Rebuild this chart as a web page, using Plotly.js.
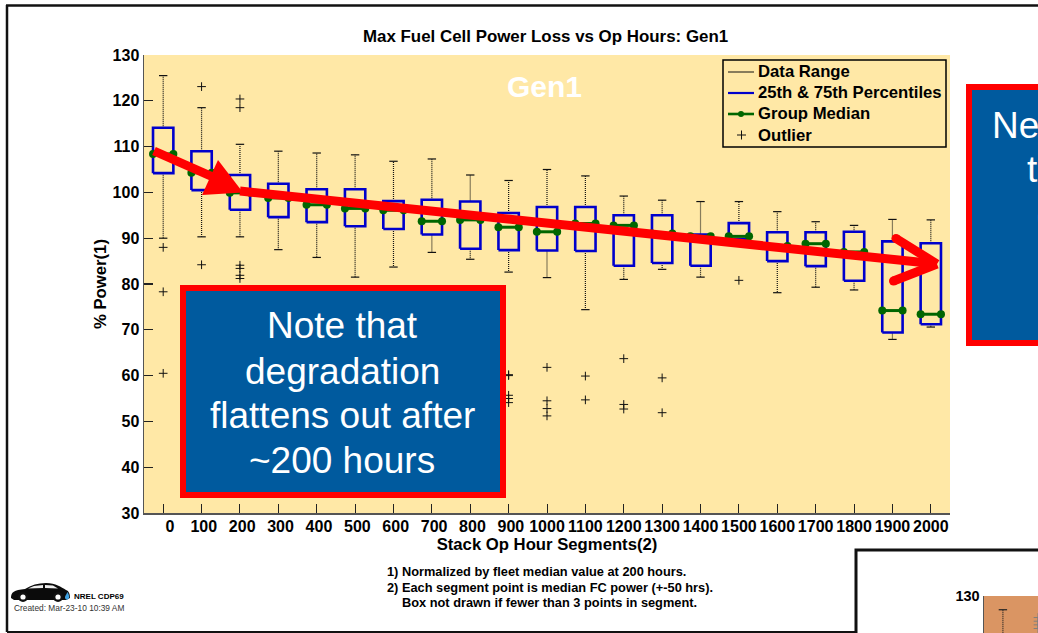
<!DOCTYPE html>
<html><head><meta charset="utf-8">
<script src="https://cdn.plot.ly/plotly-3.0.1.min.js"></script>
<style>html,body{margin:0;padding:0;background:#fff;overflow:hidden}#c{width:1038px;height:633px}</style>
</head><body><div id="c"></div>
<script>
const hours=[0,100,200,300,400,500,600,700,800,900,1000,1100,1200,1300,1400,1500,1600,1700,1800,1900,2000];
const tickLabels=["0","100","200","300","400","500","600","700","800","900","1000","1100","1200","1300","1400","1500","1600","1700","1800","1900","2000"];
const high=[125.5,118.5,110.5,109,108.6,108.2,106.8,107.3,103.8,102.6,105,103.6,99.2,98.3,98,98,95.8,93.6,92.8,94.1,94];
const q3=[114.1,109,103.8,101.9,100.7,100.7,98.1,98.4,98,95.5,96.8,96.8,95,95,90.8,93.3,91.3,91.3,91.4,89.3,88.9];
const median=[108.4,104.3,99.9,98.8,97.3,96.5,96.1,93.7,94,92.4,91.4,93.2,92.8,91,90.4,90.4,88.3,88.8,87,74.2,73.4];
const q1=[104.2,100.5,96.2,94.6,93.5,92.6,92,90.8,87.7,87.4,87.3,87.2,84,84.6,84,89.8,85,83.9,80.7,69.4,71.2];
const low=[90,90.3,90.3,87.5,85.8,81.5,83.7,86.9,85.4,82.6,81.4,74.4,81,83.2,81.5,88.5,78.1,79.3,78.7,67.9,70.6];
const outlierX=[0,0,0,100,100,200,200,200,200,200,200,900,900,900,900,900,1000,1000,1000,1000,1100,1100,1200,1200,1200,1300,1300,1500];
const outlierY=[88,78.3,60.5,123.1,84.2,120.4,118.5,84.1,83.4,81.9,81.2,60.2,60,55.7,55,54.1,61.8,54.5,52.8,51.2,59.9,54.7,63.7,53.7,52.7,59.5,51.9,80.8];
const insetX=[0];
const insetHigh=[127];
const insetLow=[120];
const insetOutX=[104,104,104,104];
const insetOutY=[125.3,124.5,123.7,122.9];
const noteLines=["Note that","degradation","flattens out after","~200 hours"];
const sideLines=["Ne","t","("];
const footnotes=["1) Normalized by fleet median value at 200 hours.","2) Each segment point is median FC power (+-50 hrs).","Box not drawn if fewer than 3 points in segment."];
const legendLabels=["Data Range","25th & 75th Percentiles","Group Median","Outlier"];

const W=1038,H=633,FONT='"Liberation Sans",Arial,sans-serif';
const px=x=>x/W, py=y=>1-y/H, HALF=26.5;
const BLUE='#0000CC',GREEN='#006600',RED='#FF0000',PANEL='#005A9E',TAN='#DA9563',BG='#FFE8A6';

const wx=[],wy=[],capX=[],capY=[],bx=[],by=[],mx=[],my=[];
hours.forEach((h,i)=>{
  wx.push(h,h,null,h,h,null); wy.push(q3[i],high[i],null,q1[i],low[i],null);
  capX.push(h,h); capY.push(high[i],low[i]);
  bx.push(h-HALF,h+HALF,h+HALF,h-HALF,h-HALF,null); by.push(q1[i],q1[i],q3[i],q3[i],q1[i],null);
  mx.push(h-HALF,h+HALF,null); my.push(median[i],median[i],null);
});
const traces=[
 {x:wx,y:wy,mode:'lines',line:{color:'#111',width:1.2,dash:'1px,1px'},showlegend:false,hoverinfo:'skip'},
 {x:capX,y:capY,mode:'markers',marker:{symbol:'line-ew',size:6,line:{color:'#111',width:1.2}},showlegend:false,hoverinfo:'skip'},
 {x:bx,y:by,mode:'lines',name:'25th & 75th Percentiles',line:{color:BLUE,width:2.6},showlegend:false},
 {x:mx,y:my,mode:'lines+markers',name:'Group Median',line:{color:GREEN,width:3},marker:{color:GREEN,size:8},showlegend:false},
 {x:outlierX,y:outlierY,mode:'markers',name:'Outlier',marker:{symbol:'cross-thin-open',size:6.2,color:'#111',line:{color:'#111',width:1}},showlegend:false},
 {x:[0,0],y:insetHigh.concat(insetLow),xaxis:'x2',yaxis:'y2',mode:'lines',line:{color:'#222',width:1.2,dash:'1px,1px'},showlegend:false},
 {x:insetX,y:insetHigh,xaxis:'x2',yaxis:'y2',mode:'markers',marker:{symbol:'line-ew',size:6,line:{color:'#222',width:1.2}},showlegend:false},
 {x:insetOutX,y:insetOutY,xaxis:'x2',yaxis:'y2',mode:'markers',marker:{symbol:'cross-thin-open',size:6.2,line:{color:'#222',width:1}},showlegend:false}
];
const rect=(x0,y0,x1,y1,fill,line,w,layer)=>({type:'rect',xref:'paper',yref:'paper',x0:px(x0),x1:px(x1),y0:py(y0),y1:py(y1),fillcolor:fill,line:{color:line,width:w},layer:layer||'above'});
const seg=(x0,y0,x1,y1,c,w,layer)=>({type:'line',xref:'paper',yref:'paper',x0:px(x0),x1:px(x1),y0:py(y0),y1:py(y1),line:{color:c,width:w},layer:layer||'above'});
const dot=(x,y,r,c)=>({type:'circle',xref:'paper',yref:'paper',x0:px(x-r),x1:px(x+r),y0:py(y-r),y1:py(y+r),fillcolor:c,line:{width:0}});
const poly=(pts,c)=>({type:'path',xref:'paper',yref:'paper',path:pts.map((p,i)=>(i?'L':'M')+px(p[0])+','+py(p[1])).join(' ')+' Z',fillcolor:c,line:{width:0}});
const bez=(cmd,c)=>({type:'path',xref:'paper',yref:'paper',path:cmd.replace(/(-?[\d.]+),(-?[\d.]+)/g,(m,a,b)=>px(+a)+','+py(+b)),fillcolor:c,line:{width:0}});

const legendY=[72,93,114,135];
const shapes=[
 seg(6,5.5,1038,5.5,'#111',2.5,'below'),
 seg(7,5,7,632,'#111',2.5,'below'),
 seg(7,632,856,632,'#111',2,'below'),
 rect(856,550,1045,640,'#fff','#111',3,'below'),
 rect(984,596,1045,640,TAN,'rgba(0,0,0,0)',0,'below'),
 // red trend arrows
 seg(154,151,222,181,RED,9),
 poly([[218,160],[202,195],[243,192.5]],RED),
 seg(240,191,937,264,RED,9),
 seg(896,238.5,937,264,RED,9),
 seg(893.5,281,937,264,RED,9),
 dot(896,238.5,4.5,RED),dot(893.5,281,4.5,RED),
 // legend frame and keys
 rect(723,60,946,147,BG,'#000',1.5),
 seg(728,legendY[0],754,legendY[0],'#111',1),
 seg(728,legendY[1],754,legendY[1],BLUE,2.2),
 seg(728,legendY[2],754,legendY[2],GREEN,2.6),
 dot(741,legendY[2],3,GREEN),
 seg(737,legendY[3],746,legendY[3],'#111',1),
 seg(741.5,legendY[3]-4.5,741.5,legendY[3]+4.5,'#111',1),
 // note boxes
 rect(183,288,503,495,PANEL,RED,6),
 rect(969,87,1050,343,PANEL,RED,6),
 // car badge
 bez('M11,598 C11,592 14,590 25,589 C31,585 38,583 46,583 C56,583 61,587 66,590 C69,591 70,594 70,598 L66,600 L52,600 L30,600 L14,600 Z','#0b0b0b'),
 dot(23,597,5,'#111'),dot(58,597,5,'#111'),dot(23,597,2.6,'#fff'),dot(58,597,2.6,'#fff'),
 poly([[28,588.5],[34,586],[43,585],[43,588]],'#eee'),
 poly([[45,585],[53,585.6],[58,588.5],[45,588]],'#eee'),
 bez('M67.5,592 C69,595 70,597 68.5,599 C67,600.5 64.5,599 65,597 C65.5,595.5 66.5,594 67.5,592 Z','#3fa0df')
];
const ann=(t,x,y,size,opt)=>Object.assign({text:t,xref:'paper',yref:'paper',x:px(x),y:py(y),showarrow:false,xanchor:'center',yanchor:'middle',borderpad:0,font:{family:FONT,size:size,color:'#000'}},opt||{});
const white=(c)=>({font:{family:FONT,size:37,color:'#fff'},xanchor:c||'center'});
const noteY=[325,371,415,460], sideY=[125,170,215], sideX=[991,1026,1035];
const annotations=[
 ann('<b>Max Fuel Cell Power Loss vs Op Hours: Gen1</b>',545.5,36,16.9),
 ann('<b>Gen1</b>',544,87,30,{font:{family:FONT,size:30,color:'#fff'}}),
 ann('<b>NREL CDP69</b>',73,596.5,8,{xanchor:'left'}),
 ann('Created: Mar-23-10 10:39 AM',12.5,608,8.35,{xanchor:'left',font:{family:FONT,size:8.35,color:'#333'}}),
 ann('<b>'+footnotes[0]+'</b>',385.5,571.5,12.8,{xanchor:'left'}),
 ann('<b>'+footnotes[1]+'</b>',385.5,587.5,12.8,{xanchor:'left'}),
 ann('<b>'+footnotes[2]+'</b>',401,602.5,12.8,{xanchor:'left'})
];
noteLines.forEach((t,i)=>annotations.push(ann(t,342,noteY[i],37,white())));
sideLines.forEach((t,i)=>annotations.push(ann(t,sideX[i],sideY[i],37,white('left'))));
legendLabels.forEach((t,i)=>annotations.push(ann('<b>'+t+'</b>',756.5,legendY[i],16.7,{xanchor:'left'})));

const axisFont={family:FONT,size:16,color:'#000',weight:700};
const titleFont={family:FONT,size:16.7,color:'#000',weight:700};
const layout={
 width:W,height:H,margin:{l:0,r:0,t:0,b:0},autosize:false,
 paper_bgcolor:'#fff',plot_bgcolor:BG,font:{family:FONT},showlegend:false,
 xaxis:{domain:[px(144),px(950)],range:[-50,2050],tickmode:'array',tickvals:hours,tickangle:0,
   ticktext:tickLabels.map(t=>'\u00a0'.repeat(t.length<2?3:(t.length<4?1:0))+t),
   ticks:'inside',ticklen:9,tickwidth:1,tickcolor:'#222',showgrid:false,zeroline:false,showline:true,linecolor:'#555',linewidth:1.5,
   ticklabelstandoff:-2,tickfont:axisFont,title:{text:'Stack Op Hour Segments(2)',font:titleFont,standoff:0},anchor:'y'},
 yaxis:{domain:[py(513),py(55)],range:[30,130],tickmode:'array',tickvals:[30,40,50,60,70,80,90,100,110,120,130],
   ticks:'inside',ticklen:9,tickwidth:1.2,tickcolor:'#222',showgrid:false,zeroline:false,showline:true,linecolor:'#555',linewidth:1.5,
   tickfont:axisFont,title:{text:'% Power(1)',font:titleFont,standoff:2},anchor:'x'},
 xaxis2:{domain:[px(984),1],range:[-56,104],showticklabels:false,ticks:'',showgrid:false,zeroline:false,showline:false,anchor:'y2'},
 yaxis2:{domain:[0,py(596)],range:[121.92,130],tickmode:'array',tickvals:[130],ticks:'inside',ticklen:9,tickwidth:1.2,tickcolor:'#222',
   showgrid:false,zeroline:false,showline:true,linecolor:'#555',linewidth:1.5,tickfont:{family:FONT,size:14.5,color:'#000',weight:700},anchor:'x2'},
 shapes:shapes,annotations:annotations,hovermode:false
};
Plotly.newPlot('c',traces,layout,{displayModeBar:false,staticPlot:true});
</script></body></html>
